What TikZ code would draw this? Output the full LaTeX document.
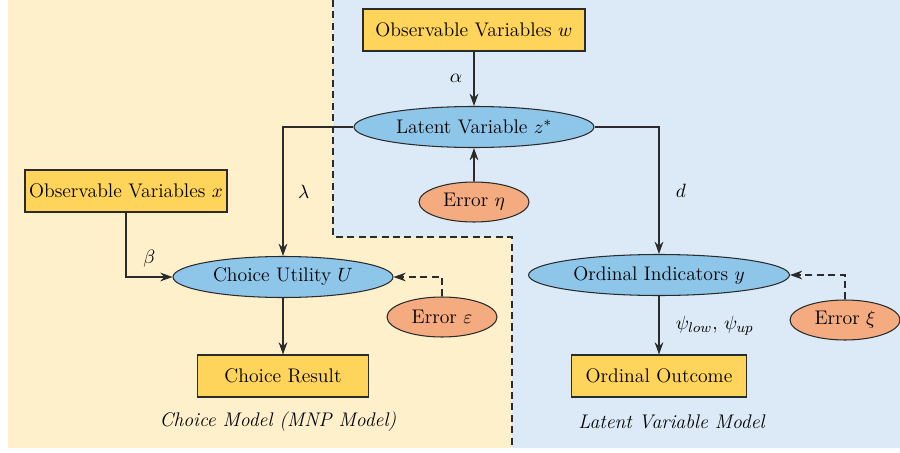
\documentclass[tikz,border=0pt]{standalone}
\usepackage{amsmath}
\usepackage{xcolor}
\usetikzlibrary{arrows, arrows.meta, shapes.geometric, positioning}
\definecolor{leftbg}{HTML}{FEF0CB}
\definecolor{rightbg}{HTML}{DCEAF7}
\definecolor{boxfill}{HTML}{FFD45A}
\definecolor{latfill}{HTML}{8EC6EA}
\definecolor{errfill}{HTML}{F4AB80}
\definecolor{linegray}{HTML}{2B2B2B}

\begin{document}
\begin{tikzpicture}[x=0.02cm,y=-0.02cm, line width=0.6pt, font=\fontsize{11.2}{13}\selectfont,
  obsbox/.style={draw=linegray, fill=boxfill, rectangle, minimum height=0.84cm, inner sep=0pt},
  latell/.style={draw=linegray, fill=latfill, ellipse, minimum height=0.82cm, inner sep=0pt},
  errell/.style={draw=linegray, fill=errfill, ellipse, minimum width=2.2cm, minimum height=0.8cm, inner sep=0pt},
  conn/.style={draw=linegray, -{Stealth[length=7pt,width=5pt]}},
  dashconn/.style={conn, dash pattern=on 4pt off 2.5pt}]
\useasboundingbox (0,0) rectangle (900,453);
% two model regions
\fill[leftbg] (8,0) -- (333,0) -- (333,237) -- (512,237) -- (512,448) -- (8,448) -- cycle;
\fill[rightbg] (333,0) -- (900,0) -- (900,448) -- (512,448) -- (512,237) -- (333,237) -- cycle;
\draw[linegray, dash pattern=on 4pt off 2.5pt] (333,0) -- (333,237) -- (512,237) -- (512,448);

% nodes
\node[obsbox, minimum width=4.44cm] (obsw) at (474,30) {Observable Variables $w$};
\node[latell, minimum width=4.8cm] (latz) at (474,127) {Latent Variable $z^{*}$};
\node[errell] (erreta) at (474,202) {Error $\eta$};
\node[obsbox, minimum width=4.04cm] (obsx) at (126,191) {Observable Variables $x$};
\node[latell, minimum width=4.4cm] (util) at (283,277) {Choice Utility $U$};
\node[errell] (erreps) at (442,317) {Error $\varepsilon$};
\node[obsbox, minimum width=3.42cm] (result) at (283,376) {Choice Result};
\node[latell, minimum width=5.22cm] (ordind) at (659,275) {Ordinal Indicators $y$};
\node[errell] (errxi) at (845,320) {Error $\xi$};
\node[obsbox, minimum width=3.5cm] (outcome) at (659,376) {Ordinal Outcome};
\node (capleft) at (278,422) {\textit{Choice Model (MNP Model)}};
\node (capright) at (672,422) {\textit{Latent Variable Model}};

% connectors
\draw[conn] (obsw) -- node[left=3pt] {$\alpha$} (latz);
\draw[conn] (erreta) -- (latz);
\draw[conn] (latz.west) -| node[pos=0.75, right=5pt] {$\lambda$} (util.north);
\draw[conn] (latz.east) -| node[pos=0.75, right=6pt] {$d$} (ordind.north);
\draw[conn] (obsx.south) |- node[pos=0.75, above=2pt] {$\beta$} (util.west);
\draw[dashconn] (erreps.north) |- (util.east);
\draw[conn] (util) -- (result);
\draw[dashconn] (errxi.north) |- (ordind.east);
\draw[conn] (ordind) -- node[right=6pt] {$\psi_{low},\,\psi_{up}$} (outcome);
\end{tikzpicture}
\end{document}
